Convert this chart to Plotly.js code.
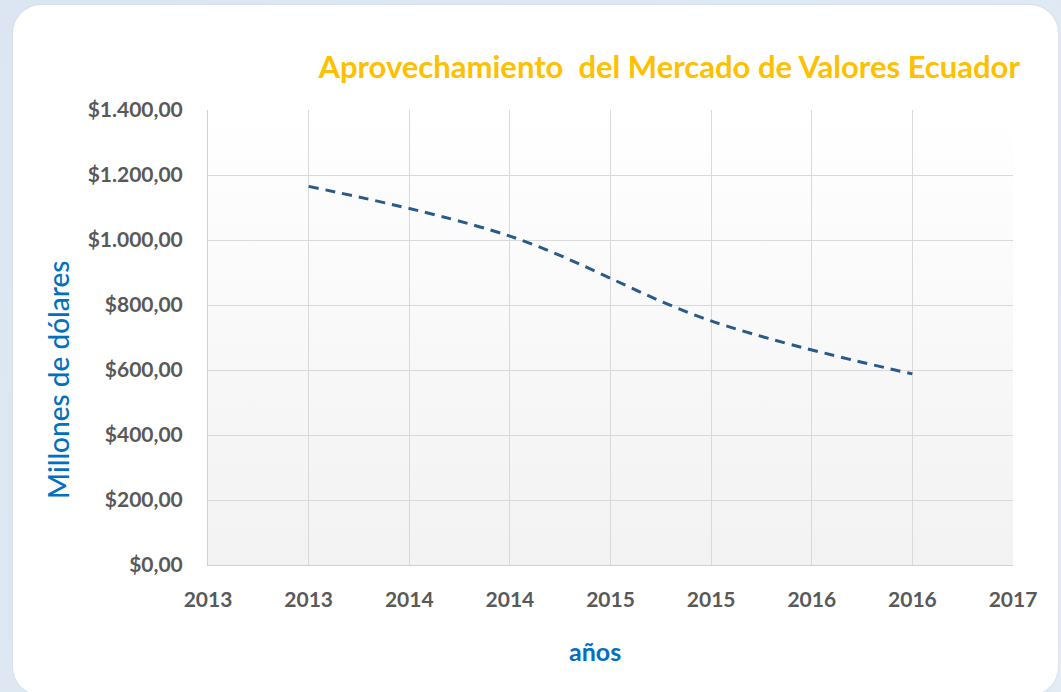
<!DOCTYPE html>
<html>
<head>
<meta charset="utf-8">
<script src="https://cdn.plot.ly/plotly-3.0.1.min.js"></script>
<style>
  html, body { margin: 0; padding: 0; width: 1061px; height: 692px; overflow: hidden;
    background: linear-gradient(135deg, #dbe6f2 0%, #e3ebf5 100%); }
  #card { position: absolute; left: 13px; top: 5px; width: 1045px; height: 690px;
    background: #ffffff; border-radius: 28px; box-shadow: 0 0 2px #c8d2dc; }
  #plotbg { position: absolute; left: 208px; top: 110px; width: 805px; height: 455px;
    background: linear-gradient(180deg, #ffffff 0%, #f2f2f2 100%); }
  #chart { position: absolute; left: 0; top: 0; width: 1061px; height: 692px; }
</style>
</head>
<body>
<div id="card"></div>
<div id="plotbg"></div>
<div id="chart"></div>
<script>
const years = [2013, 2014, 2015, 2016];
const valores = [1165, 1012, 751, 588];
const xTickVals = [2012.5, 2013, 2013.5, 2014, 2014.5, 2015, 2015.5, 2016, 2016.5];
const xTickText = ["2013", "2013", "2014", "2014", "2015", "2015", "2016", "2016", "2017"];
const yTickVals = [0, 200, 400, 600, 800, 1000, 1200, 1400];
const yTickText = ["$0,00", "$200,00", "$400,00", "$600,00", "$800,00", "$1.000,00", "$1.200,00", "$1.400,00"];

const font = "Lato, 'Open Sans', sans-serif";

const trace = {
  x: years, y: valores, type: 'scatter', mode: 'lines',
  line: { color: '#2a5a8a', width: 3, dash: '10px,7px', shape: 'spline', smoothing: 1 },
  hoverinfo: 'x+y', showlegend: false
};

const layout = {
  width: 1061, height: 692,
  margin: { l: 208, r: 48, t: 110, b: 127 },
  paper_bgcolor: 'rgba(0,0,0,0)', plot_bgcolor: 'rgba(0,0,0,0)',
  font: { family: font },
  title: {
    text: 'Aprovechamiento  del Mercado de Valores Ecuador',
    font: { family: font, size: 31, color: '#ffc000', weight: 'bold' },
    xref: 'container', x: 1020 / 1061, xanchor: 'right',
    yref: 'container', y: 1 - 67 / 692, yanchor: 'middle'
  },
  xaxis: {
    range: [2012.5, 2016.5], tickmode: 'array', tickvals: xTickVals, ticktext: xTickText,
    showgrid: true, gridcolor: '#d9d9d9', gridwidth: 1,
    showline: true, linecolor: '#d0d0d0', linewidth: 1, zeroline: false,
    ticks: '', ticklabelstandoff: 16,
    tickfont: { family: font, size: 21, color: '#595959', weight: 'bold' },
    fixedrange: true
  },
  yaxis: {
    range: [0, 1400], tickmode: 'array', tickvals: yTickVals, ticktext: yTickText,
    showgrid: true, gridcolor: '#d9d9d9', gridwidth: 1,
    showline: true, linecolor: '#d0d0d0', linewidth: 1, zeroline: false,
    ticks: '', ticklabelstandoff: 20,
    tickfont: { family: font, size: 21, color: '#595959', weight: 'bold' },
    fixedrange: true
  },
  annotations: [{
    text: 'Millones de dólares', textangle: -90, showarrow: false,
    xref: 'paper', yref: 'paper', x: (58 - 208) / 805, y: (565 - 380) / 455,
    xanchor: 'center', yanchor: 'middle',
    font: { family: font, size: 28, color: '#0070c0', weight: 500 }
  }, {
    text: 'años', showarrow: false,
    xref: 'paper', yref: 'paper', x: (595 - 208) / 805, y: (565 - 651) / 455,
    xanchor: 'center', yanchor: 'middle',
    font: { family: font, size: 25, color: '#0070c0', weight: 'bold' }
  }]
};

Plotly.newPlot('chart', [trace], layout, { displayModeBar: false, staticPlot: true });
</script>
</body>
</html>
